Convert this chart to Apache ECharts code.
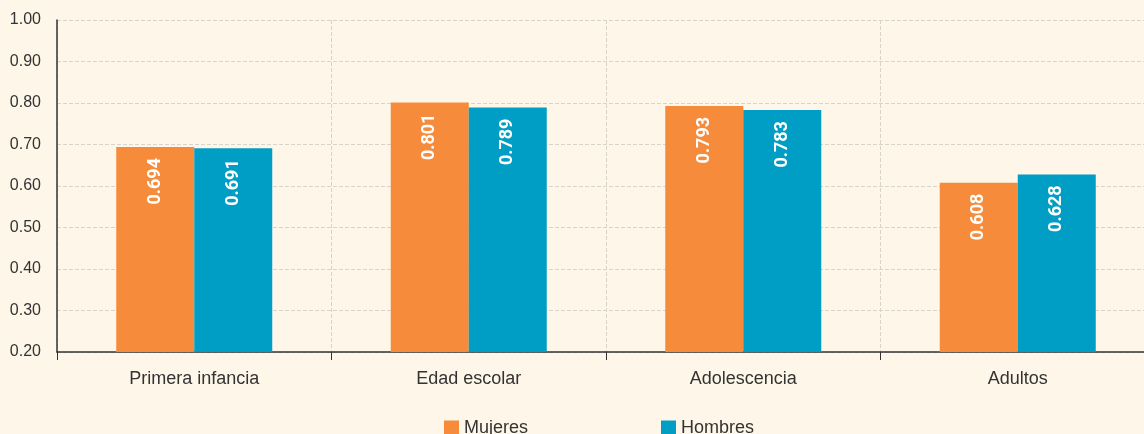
<!DOCTYPE html>
<html>
<head>
<meta charset="utf-8">
<script src="https://cdn.jsdelivr.net/npm/echarts@6/dist/echarts.min.js"></script>
<style>
  html, body { margin: 0; padding: 0; background: #fef6e8; overflow: hidden; }
  #chart { width: 1156px; height: 434px; }
</style>
</head>
<body>
<div id="chart"></div>
<script>
var categories = ['Primera infancia', 'Edad escolar', 'Adolescencia', 'Adultos']
var mujeres = [0.694, 0.801, 0.793, 0.608]
var hombres = [0.691, 0.789, 0.783, 0.628]
var seriesNames = ['Mujeres', 'Hombres']

var font = 'Liberation Sans, Arial, sans-serif'

var barLabel = {
  show: true,
  position: 'insideTop',
  rotate: 90,
  align: 'right',
  verticalAlign: 'middle',
  distance: 11,
  color: '#fff',
  fontWeight: 'bold',
  fontSize: 18,
  fontFamily: 'Roboto, sans-serif',
  formatter: function (p) { return p.value.toFixed(3) }
}

var myChart = echarts.init(document.getElementById('chart'))
var option = {
  backgroundColor: '#fef6e8',
  animation: false,
  grid: {
    left: 57,
    top: 20,
    width: 1098,
    height: 332
  },
  legend: {
    data: seriesNames,
    top: 414,
    left: 439,
    itemWidth: 15,
    itemHeight: 15,
    itemGap: 133,
    icon: 'rect',
    textStyle: { fontSize: 18, color: '#333', fontFamily: font }
  },
  xAxis: {
    type: 'category',
    data: categories,
    axisLine: { lineStyle: { color: '#333', width: 1.5 } },
    axisTick: { show: true, length: 8, lineStyle: { color: '#333' } },
    axisLabel: { fontSize: 18, color: '#333', margin: 18, fontFamily: font },
    splitLine: { show: true, lineStyle: { color: '#d8d4cc', type: 'dashed' } }
  },
  yAxis: {
    type: 'value',
    min: 0.2,
    max: 1.0,
    interval: 0.1,
    axisLine: { show: true, lineStyle: { color: '#333', width: 1.5 } },
    axisTick: { show: false },
    axisLabel: {
      fontSize: 16, color: '#333', margin: 16, fontFamily: font,
      formatter: function (v) { return v.toFixed(2) }
    },
    splitLine: { lineStyle: { color: '#d8d4cc', type: 'dashed' } }
  },
  series: [
    {
      name: seriesNames[0],
      type: 'bar',
      data: mujeres,
      barWidth: 78,
      barGap: 0,
      itemStyle: { color: '#f68b3b' },
      label: barLabel
    },
    {
      name: seriesNames[1],
      type: 'bar',
      data: hombres,
      barWidth: 78,
      barGap: 0,
      itemStyle: { color: '#009ec4' },
      label: barLabel
    }
  ]
}
myChart.setOption(option)
</script>
</body>
</html>
